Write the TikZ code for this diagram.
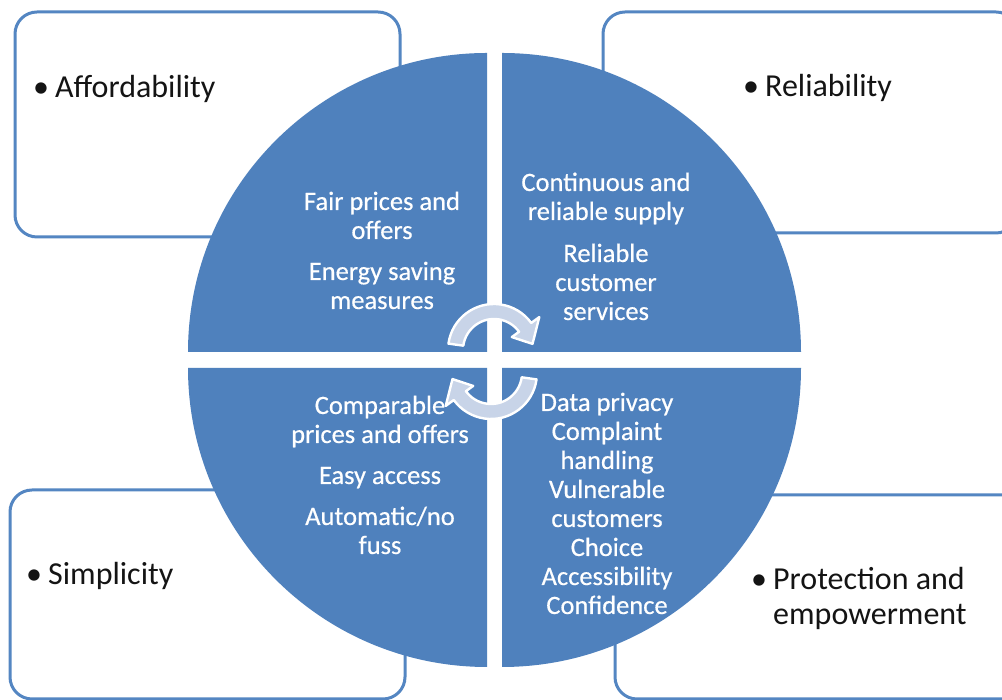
\documentclass[tikz,border=0pt]{standalone}
\usepackage{fontspec}
\setmainfont{Carlito}
\newfontfamily\quadfont[FakeBold=0.5]{Carlito}
\definecolor{quadblue}{RGB}{79,129,189}
\definecolor{edgeblue}{RGB}{84,134,194}
\definecolor{arrowfill}{RGB}{200,212,232}
\newcommand{\bulletmark}{\makebox[22pt][l]{\textbullet}}

\begin{document}
\begin{tikzpicture}[x=1pt,y=1pt,
  outerbox/.style={draw=edgeblue, line width=3pt, rounded corners=22pt, fill=white,
                   inner sep=0pt, outer sep=0pt, anchor=south west},
  quad/.style={fill=quadblue},
  boxlabel/.style={font=\fontsize{32}{35}\selectfont, text=black!92, inner sep=0pt, anchor=base west},
  quadlabel/.style={font=\quadfont\fontsize{26.5}{29}\selectfont, text=white, inner sep=0pt, anchor=base},
  cyclearrow/.style={fill=arrowfill, draw=white, line width=2.4pt, line join=round}
]
\useasboundingbox (0,0) rectangle (1002,700);
\fill[white] (0,0) rectangle (1002,700);
\clip (0,0) rectangle (1002,700);

% outer rounded boxes
\node[outerbox, minimum width=385, minimum height=225] (afford) at (15,463) {};
\node[outerbox, minimum width=415, minimum height=221] (reliab) at (603,467) {};
\node[outerbox, minimum width=395, minimum height=209] (simpl)  at (10,1) {};
\node[outerbox, minimum width=415, minimum height=204] (protect) at (615,1) {};

% four quadrants of the disc, pulled slightly apart
\fill[quad] (487,348) -- ++(-299,0) arc[start angle=180, end angle=90, radius=299] -- cycle;
\fill[quad] (502,348) -- ++(0,299) arc[start angle=90, end angle=0, radius=299] -- cycle;
\fill[quad] (502,332) -- ++(299,0) arc[start angle=0, end angle=-90, radius=299] -- cycle;
\fill[quad] (487,332) -- ++(0,-299) arc[start angle=270, end angle=180, radius=299] -- cycle;

% circular arrows in the middle
\coordinate (tc) at (494,350);
\coordinate (bc) at (491,327);
\draw[cyclearrow] ([shift={(172:46)}]tc) arc[start angle=172, end angle=36, radius=46]
  -- ([shift={(36:56)}]tc) -- ([shift={(9:39)}]tc) -- ([shift={(36:22)}]tc)
  -- ([shift={(36:31)}]tc) arc[start angle=36, end angle=172, radius=31] -- cycle;
\draw[cyclearrow] ([shift={(-8:46)}]bc) arc[start angle=-8, end angle=-144, radius=46]
  -- ([shift={(-144:56)}]bc) -- ([shift={(-171:39)}]bc) -- ([shift={(-144:22)}]bc)
  -- ([shift={(-144:31)}]bc) arc[start angle=-144, end angle=-8, radius=31] -- cycle;

% box labels
\node[boxlabel] (taff) at (33,602) {\bulletmark Affordability};
\node[boxlabel] (trel) at (743,603) {\bulletmark Reliability};
\node[boxlabel] (tsim) at (26,115) {\bulletmark Simplicity};
\node[boxlabel] (tpro) at (751,110) {\begin{tabular}[t]{@{}l@{}l@{}}\bulletmark & Protection and\\ & empowerment\end{tabular}};

% quadrant labels
\node[quadlabel] (qaff) at (382,490) {\begin{tabular}[t]{@{}c@{}}Fair prices and\\offers\\[12pt]Energy saving\\measures\end{tabular}};
\node[quadlabel] (qrel) at (606,509) {\begin{tabular}[t]{@{}c@{}}Continuous and\\reliable supply\\[13pt]Reliable\\customer\\services\end{tabular}};
\node[quadlabel] (qsim) at (380,286) {\begin{tabular}[t]{@{}c@{}}Comparable\\prices and offers\\[12pt]Easy access\\[12pt]Automatic/no\\fuss\end{tabular}};
\node[quadlabel] (qpro) at (607,289) {\begin{tabular}[t]{@{}c@{}}Data privacy\\Complaint\\handling\\Vulnerable\\customers\\Choice\\Accessibility\\Confidence\end{tabular}};
\end{tikzpicture}
\end{document}
